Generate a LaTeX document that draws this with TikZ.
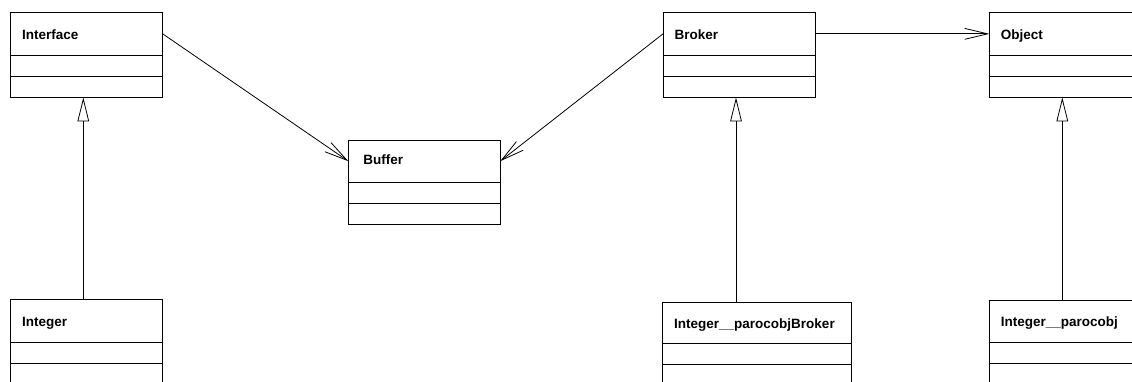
\documentclass[tikz,border=0pt]{standalone}
\usepackage{fontspec}
\setmainfont{Liberation Sans}
\newfontfamily\umlfont{Liberation Sans}
\usetikzlibrary{arrows.meta}
\begin{document}
\begin{tikzpicture}[x=1pt, y=-1pt,
  classname/.style={draw, line width=1pt, rectangle, anchor=north west, outer sep=0pt,
    minimum height=42.3pt, inner xsep=11.5pt, inner ysep=0pt, text width=129pt, align=left,
    text height=12pt, text depth=1pt,
    font=\umlfont\bfseries\fontsize{13.5}{16}\selectfont},
  classpart/.style={draw, line width=1pt, rectangle, anchor=north, outer sep=0pt,
    minimum height=21.2pt, minimum width=152pt, inner sep=0pt},
  assoc/.style={line width=0.8pt, -{Straight Barb[length=23pt, width=11pt, line width=0.8pt]}},
  inherit/.style={line width=0.8pt, -{Triangle[open, length=24pt, width=11.6pt, line width=0.8pt]}}
]
\useasboundingbox (0,0) rectangle (1132,381);
\clip (0,0) rectangle (1132,381);

% top row
\node[classname] (iface) at (10.7,12.7) {Interface};
\node[classpart] (iface-attr) at (iface.south) {};
\node[classpart] (iface-ops) at (iface-attr.south) {};

\node[classname] (broker) at (663,12.7) {Broker};
\node[classpart] (broker-attr) at (broker.south) {};
\node[classpart] (broker-ops) at (broker-attr.south) {};

\node[classname] (object) at (989.3,12.7) {Object};
\node[classpart] (object-attr) at (object.south) {};
\node[classpart] (object-ops) at (object-attr.south) {};

% middle
\node[classname, inner xsep=15pt, text width=122pt, text height=9pt, text depth=3.3pt] (buffer) at (348.3,140) {Buffer};
\node[classpart] (buffer-attr) at (buffer.south) {};
\node[classpart] (buffer-ops) at (buffer-attr.south) {};

% bottom row
\node[classname] (integer) at (10.7,299.7) {Integer};
\node[classpart] (integer-attr) at (integer.south) {};
\node[classpart] (integer-ops) at (integer-attr.south) {};

\node[classname, text width=166pt, minimum height=40.7pt] (ipb) at (662.7,302.3) {Integer\_\_parocobjBroker};
\node[classpart, minimum width=189pt] (ipb-attr) at (ipb.south) {};
\node[classpart, minimum width=189pt] (ipb-ops) at (ipb-attr.south) {};

\node[classname, minimum height=42pt] (ip) at (989.3,300) {Integer\_\_parocobj};
\node[classpart] (ip-attr) at (ip.south) {};
\node[classpart] (ip-ops) at (ip-attr.south) {};

% associations
\draw[assoc] (iface.east) -- (buffer.west);
\draw[assoc] (broker.west) -- (buffer.east);
\draw[assoc] (broker.east) -- (object.west);

% generalisations
\draw[inherit] ([xshift=-3.4pt]iface-ops.south |- integer.north) -- ([xshift=-3.4pt]iface-ops.south);
\draw[inherit] ([xshift=-3pt]broker-ops.south |- ipb.north) -- ([xshift=-3pt]broker-ops.south);
\draw[inherit] ([xshift=-3pt]object-ops.south |- ip.north) -- ([xshift=-3pt]object-ops.south);
\end{tikzpicture}
\end{document}
